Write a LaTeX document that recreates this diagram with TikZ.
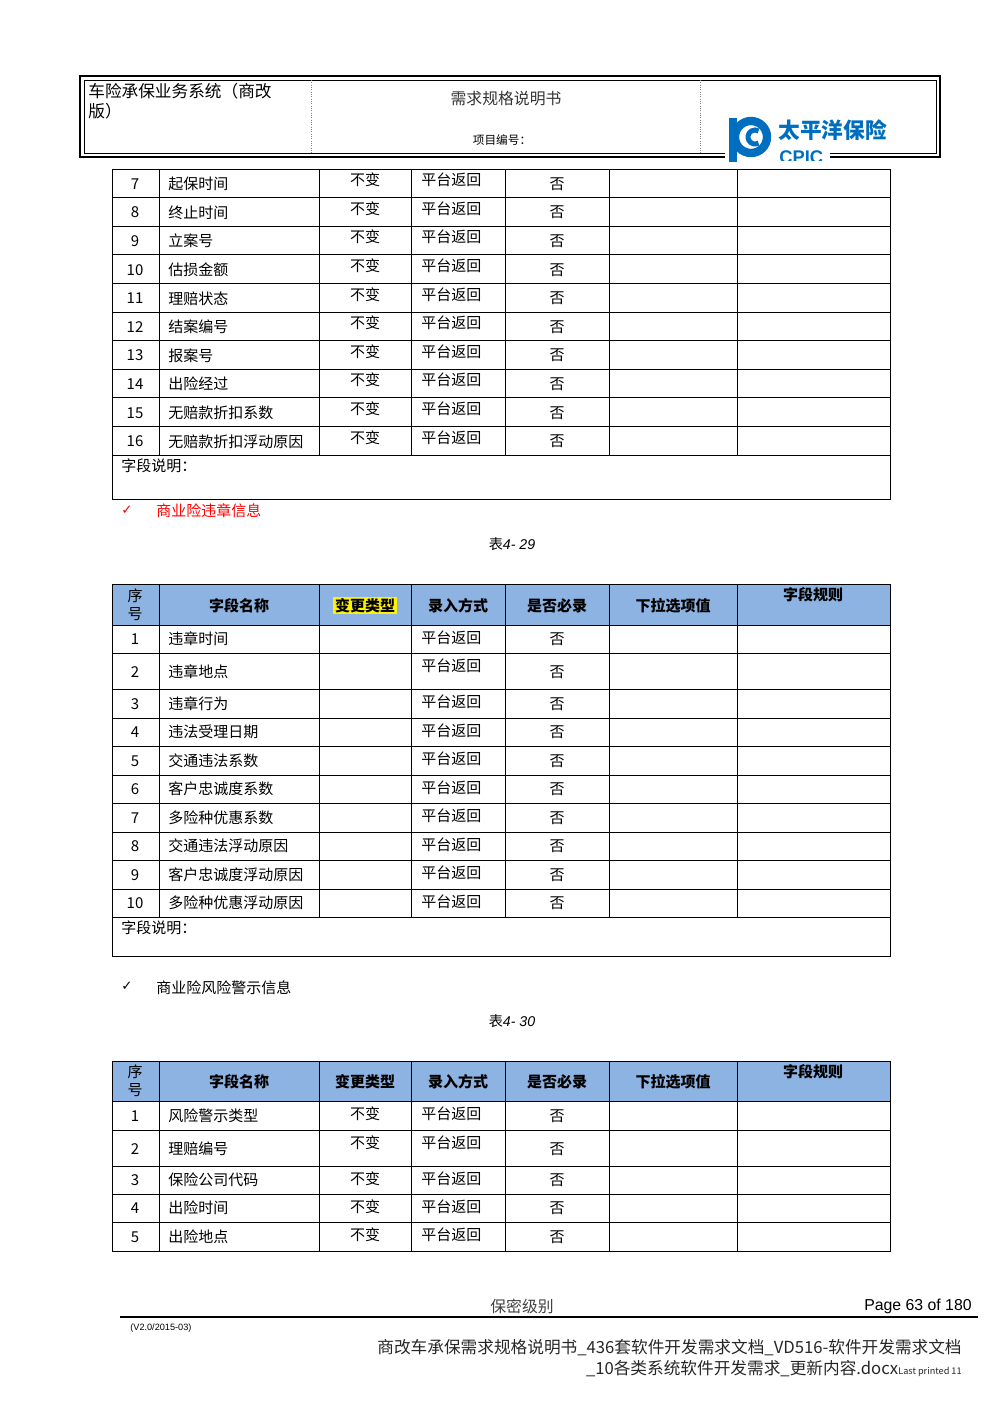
\documentclass[tikz,border=0pt]{standalone}
\usepackage{fontspec}
\setmainfont{Liberation Sans}
\newfontfamily\cjk{Noto Sans CJK SC}
\newfontfamily\dvs{DejaVu Sans}
\definecolor{hdr}{RGB}{141,179,226}
\definecolor{cpic}{RGB}{0,110,190}
\newcommand\hdrrow[3]{%
  \fill[hdr] (112,#1) rectangle (890,#2);
  \node[cell,align=center,font=\cjk\fontsize{9}{11}\selectfont] at (135,{(#1+#2)/2}) {序\\号};
  \node[hcell] at (239,{(#1+#2)/2+1}) {字段名称};
  \node[hcell,fill=#3,inner sep=1pt] at (365,{(#1+#2)/2+1}) {变更类型};
  \node[hcell] at (458,{(#1+#2)/2+1}) {录入方式};
  \node[hcell] at (557,{(#1+#2)/2+1}) {是否必录};
  \node[hcell] at (673,{(#1+#2)/2+1}) {下拉选项值};
  \node[hcell] at (813,{#1+11}) {字段规则};
}
\begin{document}
\begin{tikzpicture}[x=0.6pt,y=-0.6pt,
  cell/.style={font=\cjk\fontsize{9}{10}\selectfont,inner sep=0pt},
  hcell/.style={font=\cjk\bfseries\fontsize{9}{10}\selectfont,inner sep=0pt},
  grid/.style={line width=0.6pt}]
\useasboundingbox (0,0) rectangle (1000,1415);
% header
\draw[line width=1.2pt] (80,76) rectangle (940,157);
\draw[line width=0.6pt] (84,80) rectangle (936,153);
\draw[densely dotted,gray] (311,80) -- (311,153) (700,80) -- (700,153);
\node[cell,anchor=north west,align=left,font=\cjk\fontsize{10}{12}\selectfont] (h1) at (88,83) {车险承保业务系统（商改\\版）};
\node[cell,font=\cjk\fontsize{9.5}{10}\selectfont,text=black!80] (h2) at (506,99) {需求规格说明书};
\node[cell,font=\cjk\fontsize{7}{8}\selectfont] (h3) at (502,140) {项目编号：};
% logo
\fill[white] (725,150) rectangle (830,160);
\draw[cpic,line width=5pt] (751,137) circle (16);
\fill[cpic] (729,118) rectangle (737,162);
\draw[cpic,line width=3pt] (755,137) ++(60:7) arc (60:300:7);
\node[cpic,font=\cjk\bfseries\fontsize{13}{14}\selectfont,inner sep=0pt,anchor=west] (lg) at (778,130) {太平洋保险};
\begin{scope}
\clip (770,144) rectangle (900,160);
\node[cpic,font=\bfseries\fontsize{11}{12}\selectfont,inner sep=0pt,anchor=west] (lg2) at (779,157) {CPIC};
\end{scope}
% table 1
\foreach \n/\nm [count=\i from 0] in {7/起保时间,8/终止时间,9/立案号,10/估损金额,11/理赔状态,12/结案编号,13/报案号,14/出险经过,15/无赔款折扣系数,16/无赔款折扣浮动原因}{
  \pgfmathsetmacro\yt{169+28.6*\i}
  \pgfmathsetmacro\yc{\yt+15}
  \node[cell] at (135,\yc) {\n};
  \node[cell,anchor=west] at (168,\yc) {\nm};
  \node[cell] at (365,\yc-4) {不变};
  \node[cell,anchor=west] at (421,\yc-4) {平台返回};
  \node[cell] at (557,\yc) {否};
  \draw[grid] (112,\yt) -- (890,\yt);
}
\draw[grid] (112,455) -- (890,455);
\draw[grid] (112,169) rectangle (890,499);
\foreach \x in {159,319,411,505,609,737} \draw[grid] (\x,169) -- (\x,455);
\node[cell,anchor=west] (d1) at (121,466) {字段说明：};
\node[red,font=\dvs\fontsize{8}{10}\selectfont,inner sep=0pt] (c1) at (127,510) {✓};
\node[cell,red,anchor=west] (s1) at (156,511) {商业险违章信息};
\node[inner sep=0pt,font=\itshape\fontsize{8.5}{10}\selectfont] (t1) at (512,544) {{\cjk 表}4- 29};
% table 2
\hdrrow{584}{625}{yellow}
\foreach \n/\nm/\yt/\yb in {1/违章时间/625/653,2/违章地点/653/686,3/违章行为/689/718,4/违法受理日期/718/746,5/交通违法系数/746/775,6/客户忠诚度系数/775/803,7/多险种优惠系数/803/832,8/交通违法浮动原因/832/860,9/客户忠诚度浮动原因/860/889,10/多险种优惠浮动原因/889/917}{
  \pgfmathsetmacro\yc{\yb-14}
  \node[cell] at (135,\yc) {\n};
  \node[cell,anchor=west] at (168,\yc) {\nm};
  \node[cell,anchor=west] at (421,\yt+13) {平台返回};
  \node[cell] at (557,\yc) {否};
  \draw[grid] (112,\yt) -- (890,\yt);
}
\draw[grid] (112,689) -- (890,689);
\draw[grid] (112,917) -- (890,917);
\draw[grid] (112,584) rectangle (890,956);
\foreach \x in {159,319,411,505,609,737} \draw[grid] (\x,584) -- (\x,917);
\node[cell,anchor=west] (d2) at (121,928) {字段说明：};
\node[font=\dvs\fontsize{8}{10}\selectfont,inner sep=0pt] (c2) at (127,986) {✓};
\node[cell,anchor=west] (s2) at (156,988) {商业险风险警示信息};
\node[inner sep=0pt,font=\itshape\fontsize{8.5}{10}\selectfont] (t2) at (512,1021) {{\cjk 表}4- 30};
% table 3
\hdrrow{1061}{1101}{hdr}
\foreach \n/\nm/\yt/\yb in {1/风险警示类型/1101/1130,2/理赔编号/1130/1163,3/保险公司代码/1166/1194,4/出险时间/1194/1222,5/出险地点/1222/1251}{
  \pgfmathsetmacro\yc{\yb-14}
  \node[cell] at (135,\yc) {\n};
  \node[cell,anchor=west] at (168,\yc) {\nm};
  \node[cell] at (365,\yt+13) {不变};
  \node[cell,anchor=west] at (421,\yt+13) {平台返回};
  \node[cell] at (557,\yc) {否};
  \draw[grid] (112,\yt) -- (890,\yt);
}
\draw[grid] (112,1166) -- (890,1166);
\draw[grid] (112,1061) rectangle (890,1251);
\foreach \x in {159,319,411,505,609,737} \draw[grid] (\x,1061) -- (\x,1251);
% footer
\node[cell,font=\cjk\fontsize{9.5}{10}\selectfont,text=black!75] (f1) at (522,1306) {保密级别};
\node[font=\fontsize{9.5}{10}\selectfont,inner sep=0pt,anchor=east] (f2) at (972,1306) {Page 63 of 180};
\draw[line width=1.5pt] (120,1317) -- (978,1317);
\node[font=\fontsize{5.5}{6}\selectfont,inner sep=0pt,anchor=west] (f3) at (130,1328) {(V2.0/2015-03)};
\node[font=\cjk\fontsize{10}{11}\selectfont,inner sep=0pt,anchor=east,text=black!85] (f4) at (962,1348) {商改车承保需求规格说明书\_436套软件开发需求文档\_VD516-软件开发需求文档};
\node[font=\cjk\fontsize{10}{11}\selectfont,inner sep=0pt,anchor=east,text=black!85] (f5) at (962,1369) {\_10各类系统软件开发需求\_更新内容.docx{\fontsize{5.5}{6}\selectfont Last printed 11}};
\end{tikzpicture}
\end{document}
